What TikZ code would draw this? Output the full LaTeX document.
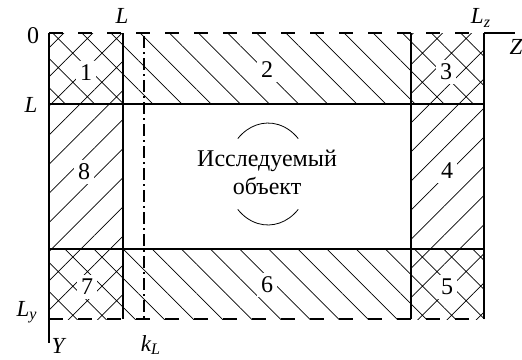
\documentclass[tikz,border=0pt]{standalone}
\usepackage{fontspec}
\setmainfont{Liberation Serif}
\usetikzlibrary{patterns.meta}

\begin{document}
\begin{tikzpicture}[x=0.5pt,y=-0.5pt,
    slant/.style={pattern={Lines[angle=-45,distance=10.3pt,line width=0.35pt]}},
    rise/.style={pattern={Lines[angle=45,distance=10.3pt,line width=0.35pt]}},
    cross/.style={pattern={Hatch[angle=45,distance=10.3pt,line width=0.35pt]}},
    wall/.style={line width=0.6pt},
    axisline/.style={line width=0.6pt,dash pattern=on 6pt off 2pt on 1pt off 2pt},
    num/.style={fill=white,inner sep=2pt,font=\rmfamily\fontsize{12}{14}\selectfont},
    lbl/.style={inner sep=1pt,font=\rmfamily\fontsize{11.5}{13}\selectfont\itshape}]
  \useasboundingbox (0,0) rectangle (522,359);
  % corners of the grid
  \coordinate (o)  at (49,33);
  \coordinate (lz) at (484,33);
  \coordinate (ly) at (49,319);
  \coordinate (e)  at (484,319);
  % hatched zones
  \fill[cross] (49,33)   rectangle (123,104);
  \fill[slant] (123,33)  rectangle (411,104);
  \fill[cross] (411,33)  rectangle (484,104);
  \fill[rise]  (411,104) rectangle (484,249);
  \fill[cross] (411,249) rectangle (484,319);
  \fill[slant] (123,249) rectangle (411,319);
  \fill[cross] (49,249)  rectangle (123,319);
  \fill[rise]  (49,104)  rectangle (123,249);
  % boundaries
  \draw[wall,dash pattern=on 7pt off 7.5pt] (o) -- (lz);
  \draw[wall,dash pattern=on 7pt off 7.5pt] (ly) -- (e);
  \draw[wall] (o) -- (49,343);
  \draw[wall] (lz) -- (515,33);
  \draw[wall] (lz) -- (e);
  \draw[wall] (123,33) -- (123,319);
  \draw[wall] (411,33) -- (411,319);
  \draw[wall] (49,104) -- (484,104);
  \draw[wall] (49,249) -- (484,249);
  \draw[axisline] (144,36) -- (144,318);
  % object
  \node[align=center,font=\rmfamily\fontsize{12}{14}\selectfont] (obj) at (267,172) {Исследуемый\\объект};
  \draw[line width=0.4pt] (237.8,138.6) arc[start angle=-136,end angle=-44,x radius=42,y radius=51];
  \draw[line width=0.4pt] (298.2,209.4) arc[start angle=44,end angle=136,x radius=42,y radius=51];
  % zone numbers
  \node[num] (z1) at (86,73)   {1};
  \node[num] (z2) at (267,70)  {2};
  \node[num] (z3) at (446,72)  {3};
  \node[num] (z4) at (447,171) {4};
  \node[num] (z5) at (447,287) {5};
  \node[num] (z6) at (267,285) {6};
  \node[num] (z7) at (87,287)  {7};
  \node[num] (z8) at (84,172)  {8};
  % axis labels
  \node[num,fill=none] (zero) at (33,36) {0};
  \node[lbl] (ltop)  at (122,16)  {L};
  \node[lbl] (lleft) at (31,105)  {L};
  \node[lbl] (lzl)   at (481,18)  {L\textsubscript{\textit{z}}};
  \node[lbl] (zl)    at (516,47)  {Z};
  \node[lbl] (lyl)   at (27,312)  {L\textsubscript{\textit{y}}};
  \node[lbl] (yl)    at (58,346)  {Y};
  \node[lbl] (kl)    at (151,345) {k\textsubscript{\textit{L}}};
\end{tikzpicture}
\end{document}
